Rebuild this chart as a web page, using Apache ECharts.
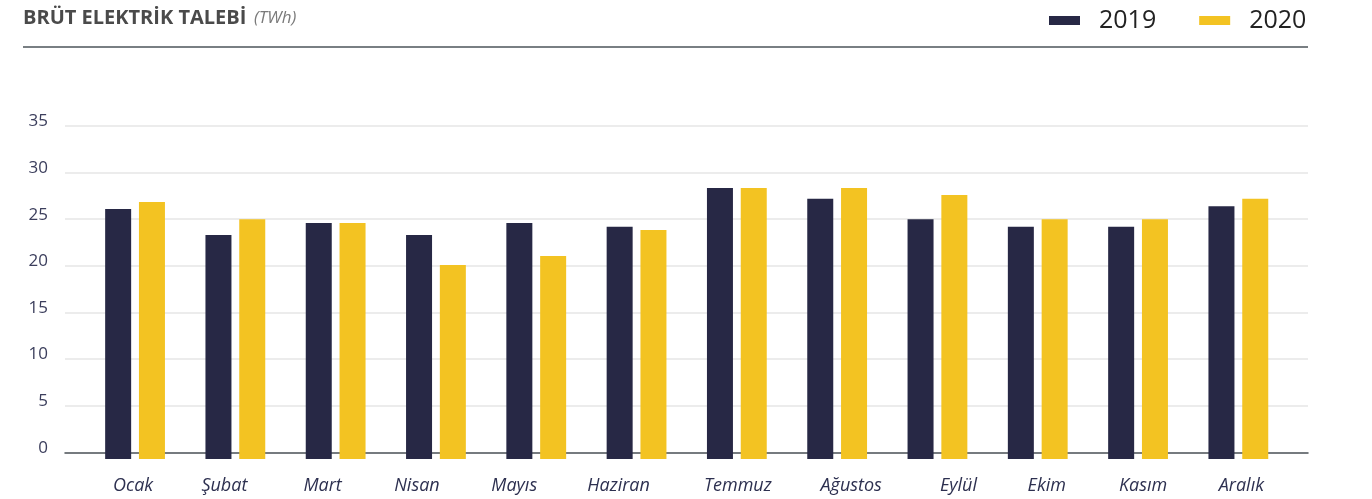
<!DOCTYPE html>
<html>
<head>
<meta charset="utf-8">
<script src="https://cdn.jsdelivr.net/npm/echarts@6/dist/echarts.min.js"></script>
<style>
html,body{margin:0;padding:0;background:#fff;}
#chart{width:1372px;height:499px;}
</style>
</head>
<body>
<div id="chart"></div>
<script>
const months = ['Ocak','Şubat','Mart','Nisan','Mayıs','Haziran','Temmuz','Ağustos','Eylül','Ekim','Kasım','Aralık'];
const values2019 = [26.1, 23.3, 24.6, 23.3, 24.6, 24.2, 28.35, 27.2, 25.0, 24.2, 24.2, 26.4];
const values2020 = [26.85, 25.0, 24.6, 20.1, 21.05, 23.85, 28.35, 28.35, 27.6, 25.0, 25.0, 27.2];
const yTicks = [0, 5, 10, 15, 20, 25, 30, 35];
const seriesNames = ['2019', '2020'];

const NAVY = '#272845';
const YELLOW = '#F3C322';
const FONT = '"Open Sans", "Noto Sans", sans-serif';

// label layout nudges (px) to match the reference's hand-placed month labels
const labelNudge = [-2, -11, -13, -19, -22, -18, 1, 14, 21, 9, 5, 3];
const xRich = {};
labelNudge.forEach(function (d, i) {
  xRich['l' + i] = {
    fontFamily: FONT, fontStyle: 'italic', fontSize: 18, color: '#2d3050',
    padding: [0, d < 0 ? -2 * d : 0, 0, d > 0 ? 2 * d : 0]
  };
});

const chart = echarts.init(document.getElementById('chart'), null, {renderer: 'canvas'});
chart.setOption({
  animation: false,
  backgroundColor: '#ffffff',
  title: [
    {
      left: 23, top: 8, padding: 0,
      text: 'BRÜT ELEKTRİK TALEBİ',
      textStyle: {fontFamily: FONT, fontWeight: 'bold', fontSize: 20, color: '#4a4a4a'}
    },
    {
      left: 254, top: 10, padding: 0,
      text: '(TWh)',
      textStyle: {fontFamily: FONT, fontStyle: 'italic', fontWeight: 'normal', fontSize: 17, color: '#7a7a7a'}
    }
  ],
  legend: {
    left: 1049, top: 8, padding: 0,
    icon: 'rect',
    itemWidth: 31, itemHeight: 9,
    itemGap: 43,
    selectedMode: false,
    data: seriesNames,
    textStyle: {fontFamily: FONT, fontSize: 25, color: '#222222', padding: [0, 0, 0, 14]}
  },
  graphic: [{
    type: 'line',
    shape: {x1: 23, y1: 47, x2: 1308, y2: 47},
    style: {stroke: '#4d545a', lineWidth: 1.5}
  }],
  grid: [
    {left: 65, right: 64, top: 126, height: 326.3},
    {left: 84.9, width: 1203.6, top: 126, height: 333}
  ],
  xAxis: [
    {
      gridIndex: 0, type: 'category', data: months,
      offset: 6.7,
      axisLine: {show: true, lineStyle: {color: '#4a5056', width: 1.5}},
      axisTick: {show: false}, axisLabel: {show: false}, splitLine: {show: false}
    },
    {
      gridIndex: 1, type: 'category', data: months,
      axisLine: {show: false}, axisTick: {show: false},
      axisLabel: {
        interval: 0, hideOverlap: false,
        margin: 18, fontFamily: FONT, fontStyle: 'italic', fontSize: 18, color: '#2d3050',
        formatter: function (value, index) { return '{l' + index + '|' + value + '}'; },
        rich: xRich
      }
    }
  ],
  yAxis: [
    {
      gridIndex: 0, type: 'value', min: yTicks[0], max: yTicks[yTicks.length - 1], interval: 5,
      axisLine: {show: false}, axisTick: {show: false},
      splitLine: {show: true, showMinLine: false, lineStyle: {color: '#e6e6e6', width: 1.5}},
      axisLabel: {margin: 17, fontFamily: FONT, fontSize: 17, color: '#3b3e5c', verticalAlign: 'bottom', lineHeight: 9}
    },
    {
      gridIndex: 1, type: 'value', min: -0.72, max: 35, startValue: -0.72, show: false,
      splitLine: {show: false}
    }
  ],
  series: [
    {
      name: seriesNames[0], type: 'bar', xAxisIndex: 1, yAxisIndex: 1,
      data: values2019, barWidth: 26, barGap: '30%',
      itemStyle: {color: NAVY}
    },
    {
      name: seriesNames[1], type: 'bar', xAxisIndex: 1, yAxisIndex: 1,
      data: values2020, barWidth: 26, barGap: '30%',
      itemStyle: {color: YELLOW}
    }
  ]
});
</script>
</body>
</html>
